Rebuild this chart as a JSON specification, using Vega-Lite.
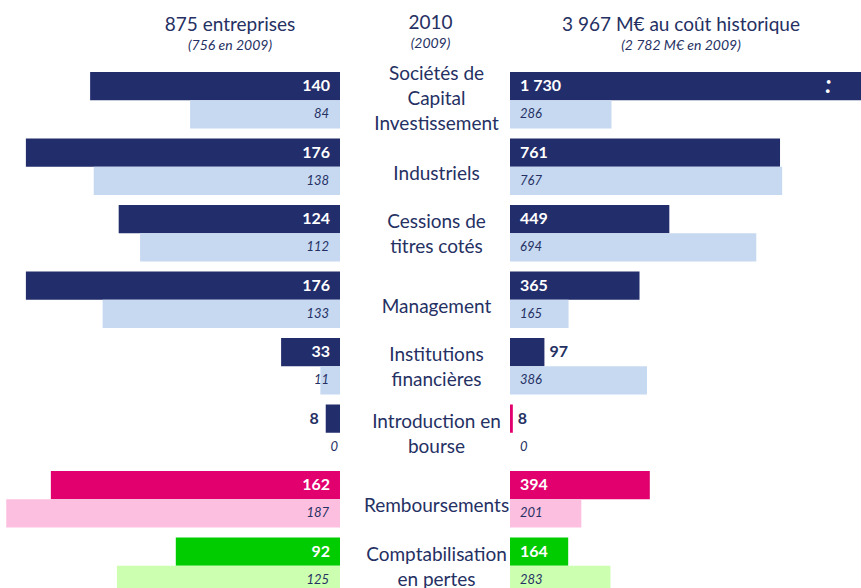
{
  "$schema": "https://vega.github.io/schema/vega-lite/v6.json",
  "padding": {"top": 14, "left": 0, "right": 0, "bottom": 0},
  "spacing": 0,
  "config": {
    "view": {"stroke": null},
    "font": "Lato",
    "locale": {"number": {"decimal": ",", "thousands": " ", "grouping": [3], "currency": ["", " €"]}},
    "title": {"font": "Lato", "fontSize": 19, "fontWeight": "normal", "color": "#253063", "subtitleFont": "Lato", "subtitleFontSize": 14, "subtitleFontStyle": "italic", "subtitleColor": "#253063", "subtitlePadding": 4, "offset": 14, "anchor": "middle"}
  },
  "datasets": {
    "rows": [
      {"category": "Sociétés de\nCapital\nInvestissement", "year": "2010", "n": 140, "m": 1730, "kL": "inv-2010", "kR": "inv-2010"},
      {"category": "Sociétés de\nCapital\nInvestissement", "year": "2009", "n": 84, "m": 286, "kL": "inv-2009", "kR": "inv-2009"},
      {"category": "Industriels", "year": "2010", "n": 176, "m": 761, "kL": "inv-2010", "kR": "inv-2010"},
      {"category": "Industriels", "year": "2009", "n": 138, "m": 767, "kL": "inv-2009", "kR": "inv-2009"},
      {"category": "Cessions de\ntitres cotés", "year": "2010", "n": 124, "m": 449, "kL": "inv-2010", "kR": "inv-2010"},
      {"category": "Cessions de\ntitres cotés", "year": "2009", "n": 112, "m": 694, "kL": "inv-2009", "kR": "inv-2009"},
      {"category": "Management", "year": "2010", "n": 176, "m": 365, "kL": "inv-2010", "kR": "inv-2010"},
      {"category": "Management", "year": "2009", "n": 133, "m": 165, "kL": "inv-2009", "kR": "inv-2009"},
      {"category": "Institutions\nfinancières", "year": "2010", "n": 33, "m": 97, "kL": "inv-2010", "kR": "inv-2010"},
      {"category": "Institutions\nfinancières", "year": "2009", "n": 11, "m": 386, "kL": "inv-2009", "kR": "inv-2009"},
      {"category": "Introduction en\nbourse", "year": "2010", "n": 8, "m": 8, "kL": "inv-2010", "kR": "remb-2010"},
      {"category": "Introduction en\nbourse", "year": "2009", "n": 0, "m": 0, "kL": "inv-2009", "kR": "inv-2009"},
      {"category": "Remboursements", "year": "2010", "n": 162, "m": 394, "kL": "remb-2010", "kR": "remb-2010"},
      {"category": "Remboursements", "year": "2009", "n": 187, "m": 201, "kL": "remb-2009", "kR": "remb-2009"},
      {"category": "Comptabilisation\nen pertes", "year": "2010", "n": 92, "m": 164, "kL": "pert-2010", "kR": "pert-2010"},
      {"category": "Comptabilisation\nen pertes", "year": "2009", "n": 125, "m": 283, "kL": "pert-2009", "kR": "pert-2009"}
    ]
  },
  "hconcat": [
    {
      "width": 340,
      "height": 521,
      "title": {"text": "875 entreprises", "subtitle": "(756 en 2009)", "dx": 60},
      "data": {"name": "rows"},
      "encoding": {
        "y": {"field": "category", "type": "nominal", "axis": null, "scale": {"domain": ["Sociétés de\nCapital\nInvestissement", "Industriels", "Cessions de\ntitres cotés", "Management", "Institutions\nfinancières", "Introduction en\nbourse", "Remboursements", "Comptabilisation\nen pertes"], "range": [0, 532], "paddingInner": 0.15, "paddingOuter": 0.075}},
        "yOffset": {"field": "year", "type": "nominal", "sort": ["2010", "2009"], "scale": {"paddingInner": 0, "paddingOuter": 0}}
      },
      "layer": [
        {
          "mark": {"type": "bar", "clip": true},
          "encoding": {
            "x": {"field": "n", "type": "quantitative", "axis": null, "scale": {"domain": [0, 190.5], "reverse": true, "nice": false}},
            "color": {"field": "kL", "type": "nominal", "legend": null, "scale": {"domain": ["inv-2010", "inv-2009", "remb-2010", "remb-2009", "pert-2010", "pert-2009"], "range": ["#222D6B", "#C6D9F1", "#E2006F", "#FCBFDF", "#00CC00", "#CCFFB0"]}}
          }
        },
        {
          "transform": [{"filter": "datum.year == '2010' && datum.n >= 20"}],
          "mark": {"type": "text", "align": "right", "baseline": "middle", "dx": -10, "fontSize": 16, "fontWeight": "bold", "color": "white"},
          "encoding": {"x": {"datum": 0, "type": "quantitative"}, "text": {"field": "n", "type": "quantitative", "format": ","}}
        },
        {
          "transform": [{"filter": "datum.year == '2010' && datum.n < 20"}],
          "mark": {"type": "text", "align": "right", "baseline": "middle", "dx": -7, "fontSize": 16, "fontWeight": "bold", "color": "#253063"},
          "encoding": {"x": {"field": "n", "type": "quantitative"}, "text": {"field": "n", "type": "quantitative", "format": ","}}
        },
        {
          "transform": [{"filter": "datum.year == '2009' && datum.n > 0"}],
          "mark": {"type": "text", "align": "right", "baseline": "middle", "dx": -11, "fontSize": 13, "fontStyle": "italic", "color": "#253063"},
          "encoding": {"x": {"datum": 0, "type": "quantitative"}, "text": {"field": "n", "type": "quantitative", "format": ","}}
        },
        {
          "transform": [{"filter": "datum.year == '2009' && datum.n == 0"}],
          "mark": {"type": "text", "align": "right", "baseline": "middle", "dx": -2, "fontSize": 13, "fontStyle": "italic", "color": "#253063"},
          "encoding": {"x": {"datum": 0, "type": "quantitative"}, "text": {"field": "n", "type": "quantitative", "format": ","}}
        }
      ]
    },
    {
      "width": 169,
      "height": 521,
      "title": {"text": "2010", "subtitle": "(2009)", "dx": 6},
      "data": {"name": "rows"},
      "encoding": {
        "y": {"field": "category", "type": "nominal", "axis": null, "scale": {"domain": ["Sociétés de\nCapital\nInvestissement", "Industriels", "Cessions de\ntitres cotés", "Management", "Institutions\nfinancières", "Introduction en\nbourse", "Remboursements", "Comptabilisation\nen pertes"], "range": [0, 532], "paddingInner": 0.15, "paddingOuter": 0.075}},
        "text": {"field": "category", "type": "nominal"}
      },
      "layer": [
        {
          "transform": [{"filter": "datum.year == '2010' && length(split(datum.category, '\\n')) == 1"}],
          "mark": {"type": "text", "lineBreak": "\n", "lineHeight": 25, "fontSize": 19, "color": "#253063", "dx": 12, "dy": 7, "baseline": "middle"}
        },
        {
          "transform": [{"filter": "datum.year == '2010' && length(split(datum.category, '\\n')) == 2"}],
          "mark": {"type": "text", "lineBreak": "\n", "lineHeight": 25, "fontSize": 19, "color": "#253063", "dx": 12, "dy": -11, "baseline": "middle"}
        },
        {
          "transform": [{"filter": "datum.year == '2010' && length(split(datum.category, '\\n')) == 3"}],
          "mark": {"type": "text", "lineBreak": "\n", "lineHeight": 25, "fontSize": 19, "color": "#253063", "dx": 12, "dy": -26, "baseline": "middle"}
        }
      ]
    },
    {
      "width": 352,
      "height": 521,
      "title": {"text": "3 967 M€ au coût historique", "subtitle": "(2 782  M€ en 2009)", "dx": -5},
      "data": {"name": "rows"},
      "encoding": {
        "y": {"field": "category", "type": "nominal", "axis": null, "scale": {"domain": ["Sociétés de\nCapital\nInvestissement", "Industriels", "Cessions de\ntitres cotés", "Management", "Institutions\nfinancières", "Introduction en\nbourse", "Remboursements", "Comptabilisation\nen pertes"], "range": [0, 532], "paddingInner": 0.15, "paddingOuter": 0.075}},
        "yOffset": {"field": "year", "type": "nominal", "sort": ["2010", "2009"], "scale": {"paddingInner": 0, "paddingOuter": 0}}
      },
      "layer": [
        {
          "mark": {"type": "bar", "clip": true},
          "encoding": {
            "x": {"field": "m", "type": "quantitative", "axis": null, "scale": {"domain": [0, 992], "nice": false}},
            "color": {"field": "kR", "type": "nominal", "legend": null, "scale": {"domain": ["inv-2010", "inv-2009", "remb-2010", "remb-2009", "pert-2010", "pert-2009"], "range": ["#222D6B", "#C6D9F1", "#E2006F", "#FCBFDF", "#00CC00", "#CCFFB0"]}}
          }
        },
        {
          "transform": [{"filter": "datum.year == '2010' && datum.m >= 150"}],
          "mark": {"type": "text", "align": "left", "baseline": "middle", "dx": 10, "fontSize": 16, "fontWeight": "bold", "color": "white"},
          "encoding": {"x": {"datum": 0, "type": "quantitative"}, "text": {"field": "m", "type": "quantitative", "format": ","}}
        },
        {
          "transform": [{"filter": "datum.year == '2010' && datum.m < 150"}],
          "mark": {"type": "text", "align": "left", "baseline": "middle", "dx": 5, "fontSize": 16, "fontWeight": "bold", "color": "#253063"},
          "encoding": {"x": {"field": "m", "type": "quantitative"}, "text": {"field": "m", "type": "quantitative", "format": ","}}
        },
        {
          "transform": [{"filter": "datum.year == '2009'"}],
          "mark": {"type": "text", "align": "left", "baseline": "middle", "dx": 10, "fontSize": 13, "fontStyle": "italic", "color": "#253063"},
          "encoding": {"x": {"datum": 0, "type": "quantitative"}, "text": {"field": "m", "type": "quantitative", "format": ","}}
        },
        {
          "transform": [{"filter": "datum.year == '2010' && datum.m > 992"}],
          "mark": {"type": "text", "align": "center", "baseline": "middle", "fontSize": 24, "fontWeight": "bold", "fontStyle": "italic", "color": "white", "text": ":"},
          "encoding": {"x": {"datum": 897, "type": "quantitative"}}
        }
      ]
    }
  ]
}
